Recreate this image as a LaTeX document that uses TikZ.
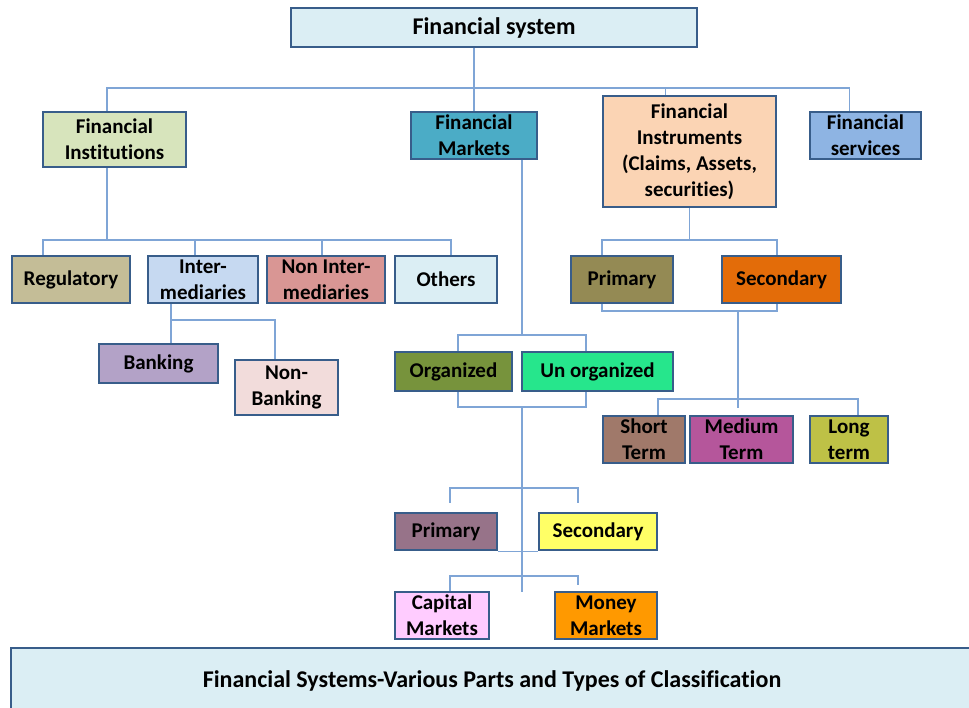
\documentclass[tikz,border=0pt]{standalone}
\usepackage{fontspec}
\setmainfont{Carlito}[Ligatures=NoCommon]
\usetikzlibrary{backgrounds}

\definecolor{boxline}{HTML}{385D8A}
\definecolor{linkcol}{HTML}{7FA5D6}
\definecolor{paleblue}{HTML}{DBEEF4}
\definecolor{palegreen}{HTML}{D7E4BC}
\definecolor{teal}{HTML}{4BACC6}
\definecolor{peach}{HTML}{FBD4B4}
\definecolor{skyblue}{HTML}{8EB4E3}
\definecolor{khaki}{HTML}{C4BD97}
\definecolor{lightblue}{HTML}{C6D9F1}
\definecolor{rose}{HTML}{D99694}
\definecolor{lavender}{HTML}{B3A2C7}
\definecolor{pink}{HTML}{F2DCDB}
\definecolor{olive}{HTML}{77933C}
\definecolor{mint}{HTML}{26E68C}
\definecolor{darkkhaki}{HTML}{948A54}
\definecolor{orange}{HTML}{E36C09}
\definecolor{brown}{HTML}{A0796A}
\definecolor{magenta}{HTML}{B5569B}
\definecolor{lime}{HTML}{BEC146}
\definecolor{mauve}{HTML}{977389}
\definecolor{lemon}{HTML}{FFFF66}
\definecolor{candy}{HTML}{FFCCFF}
\definecolor{amber}{HTML}{FF9900}

\begin{document}
\begin{tikzpicture}[
	x=1pt, y=-1pt,
	box/.style={draw=boxline, line width=2.2pt, align=center, inner sep=0pt,
		font=\bfseries\fontsize{21}{26}\selectfont},
	title/.style={box, font=\bfseries\fontsize{24}{28}\selectfont},
	link/.style={draw=linkcol, line width=1.2pt}
]
\useasboundingbox (0,0) rectangle (969,708);

% top level
\node[title, fill=paleblue, minimum width=406, minimum height=39] (sys) at (494,27.5) {Financial system};

\node[box, fill=palegreen, minimum width=143, minimum height=55] (inst) at (114.5,139.5) {Financial\\Institutions};
\node[box, fill=teal, minimum width=126, minimum height=47] (mkt) at (474,135.5) {Financial\\Markets};
\node[box, fill=peach, minimum width=173, minimum height=111] (instr) at (689.5,151.5) {Financial\\Instruments\\(Claims, Assets,\\securities)};
\node[box, fill=skyblue, minimum width=111, minimum height=47] (serv) at (865.5,135.5) {Financial\\services};

% institutions
\node[box, fill=khaki, minimum width=118, minimum height=47] (reg) at (71,279.5) {Regulatory};
\node[box, fill=lightblue, minimum width=110, minimum height=47] (inter) at (203,279.5) {Inter-\\mediaries};
\node[box, fill=rose, minimum width=118, minimum height=47] (noninter) at (326,279.5) {Non Inter-\\mediaries};
\node[box, fill=paleblue, minimum width=102, minimum height=47] (others) at (446,279.5) {Others};

\node[box, fill=lavender, minimum width=119, minimum height=39] (bank) at (158.5,363.5) {Banking};
\node[box, fill=pink, minimum width=103, minimum height=55] (nonbank) at (286.5,387.5) {Non-\\Banking};

% markets
\node[box, fill=olive, minimum width=117, minimum height=39] (org) at (453.5,371.5) {Organized};
\node[box, fill=mint, minimum width=151, minimum height=39] (unorg) at (597.5,371.5) {Un organized};

\node[box, fill=mauve, minimum width=102, minimum height=37] (mprim) at (446,531.5) {Primary};
\node[box, fill=lemon, minimum width=118, minimum height=37] (msec) at (598,531.5) {Secondary};

\node[box, fill=candy, minimum width=94, minimum height=47] (cap) at (442,615.5) {Capital\\Markets};
\node[box, fill=amber, minimum width=102, minimum height=47] (money) at (606,615.5) {Money\\Markets};

% instruments
\node[box, fill=darkkhaki, minimum width=102, minimum height=47] (iprim) at (622,279.5) {Primary};
\node[box, fill=orange, minimum width=119, minimum height=47] (isec) at (781.5,279.5) {Secondary};

\node[box, fill=brown, minimum width=82, minimum height=47] (short) at (644,439.5) {Short\\Term};
\node[box, fill=magenta, minimum width=103, minimum height=47] (medium) at (741.5,439.5) {Medium\\Term};
\node[box, fill=lime, minimum width=78, minimum height=47] (long) at (849,439.5) {Long\\term};

% caption
\node[title, fill=paleblue, minimum width=962, minimum height=66] (caption) at (492,681) {Financial Systems-Various Parts and Types of Classification};

% bus levels
\coordinate (b1) at (0,88);
\coordinate (b2) at (0,240);
\coordinate (b3) at (0,320);
\coordinate (b4) at (0,335);
\coordinate (b5) at (0,407);
\coordinate (b6) at (0,488);
\coordinate (b7) at (0,576);
\coordinate (b8) at (0,311);
\coordinate (b9) at (0,399);
\coordinate (fi) at (107,0);
\coordinate (mend) at (522,592);
\coordinate (tend) at (738,408);

\begin{scope}[on background layer]
% system to main parts
\draw[link] (sys.south -| mkt) -- (mkt.north);
\draw[link] (inst.north -| fi) -- (fi |- b1) -- ([xshift=-16]serv.north |- b1) -- ([xshift=-16]serv.north);
\draw[link] ([xshift=-24]instr.north) -- ([xshift=-24]instr.north |- b1);

% institutions
\draw[link] (inst.south -| fi) -- (fi |- b2);
\draw[link] ([xshift=-28]reg.north) -- ([xshift=-28]reg.north |- b2) -- ([xshift=5]others.north |- b2) -- ([xshift=5]others.north);
\draw[link] ([xshift=-8]inter.north) -- ([xshift=-8]inter.north |- b2);
\draw[link] ([xshift=-4]noninter.north) -- ([xshift=-4]noninter.north |- b2);
\draw[link] ([xshift=-32]inter.south) -- ([xshift=-32]inter.south |- bank.north);
\draw[link] ([xshift=-32]inter.south |- b3) -- ([xshift=-11.5]nonbank.north |- b3) -- ([xshift=-11.5]nonbank.north);

% markets
\draw[link] ([xshift=48]mkt.south) -- ([xshift=48]mkt.south |- b4);
\draw[link] ([xshift=4.5]org.north) -- ([xshift=4.5]org.north |- b4) -- ([xshift=-11.5]unorg.north |- b4) -- ([xshift=-11.5]unorg.north);
\draw[link] ([xshift=4.5]org.south) -- ([xshift=4.5]org.south |- b5) -- ([xshift=-11.5]unorg.south |- b5) -- ([xshift=-11.5]unorg.south);
\draw[link] (mend |- b5) -- (mend);
\draw[link] ([xshift=4,yshift=9]mprim.north) -- ([xshift=4]mprim.north |- b6) -- ([xshift=-20]msec.north |- b6) -- ([xshift=-20,yshift=9]msec.north);
\draw[link] (mprim.south east) -- (msec.south west);
\draw[link] ([xshift=8]cap.north) -- ([xshift=8]cap.north |- b7) -- ([xshift=-28]money.north |- b7) -- ([xshift=-28,yshift=6]money.north);

% instruments
\draw[link] (instr.south) -- (instr.south |- b2);
\draw[link] ([xshift=-20]iprim.north) -- ([xshift=-20]iprim.north |- b2) -- ([xshift=-4.5]isec.north |- b2) -- ([xshift=-4.5]isec.north);
\draw[link] ([xshift=-20]iprim.south) -- ([xshift=-20]iprim.south |- b8) -- ([xshift=-4.5]isec.south |- b8) -- ([xshift=-4.5]isec.south);
\draw[link] (tend |- b8) -- (tend);
\draw[link] ([xshift=14]short.north) -- ([xshift=14]short.north |- b9) -- ([xshift=9]long.north |- b9) -- ([xshift=9]long.north);
\end{scope}
\end{tikzpicture}
\end{document}
